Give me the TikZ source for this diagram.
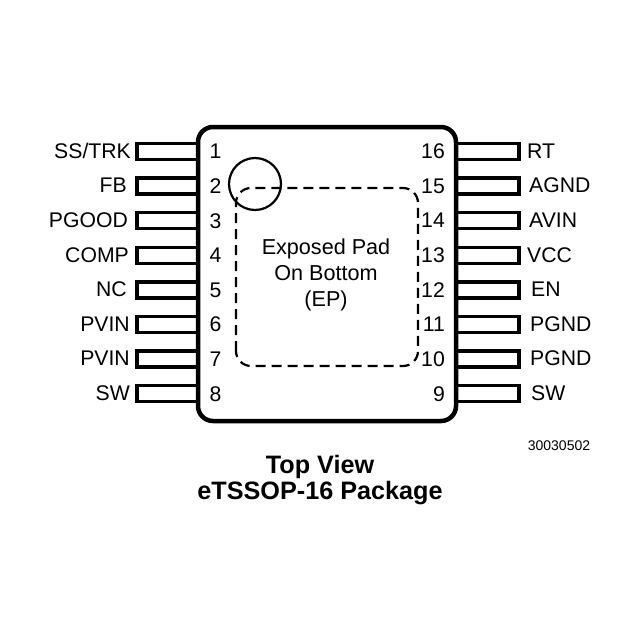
\documentclass[tikz,border=0pt]{standalone}
\usepackage{fontspec}
\setmainfont{Liberation Sans}
\tikzset{
  pinbox/.style={line width=3.3pt,line join=miter},
  pinlabel/.style={font=\fontsize{21.2}{24}\selectfont,inner sep=0pt},
  padlabel/.style={font=\fontsize{21.6}{26}\selectfont,inner sep=0pt,align=center},
  titlelabel/.style={font=\fontsize{25.2}{26}\selectfont\bfseries,inner sep=0pt,align=center}
}
\begin{document}
\begin{tikzpicture}[x=1pt,y=-1pt]
    \useasboundingbox (0,0) rectangle (640,640);
    % pins begin
    \foreach \n/\name/\nx in {1/SS\slash TRK/131,2/FB/127,3/PGOOD/128,4/COMP/129,5/NC/127,6/PVIN/130,7/PVIN/130,8/SW/130}{
        \pgfmathsetmacro{\ypin}{151.5+34.6*(\n-1)}
        \draw[pinbox] (198,\ypin-8) -- (137,\ypin-8) -- (137,\ypin+8) -- (198,\ypin+8);
        \node[pinlabel,anchor=east] (l\n) at (\nx,\ypin-.5) {\name};
        \node[pinlabel] (n\n) at (215.5,\ypin) {\n};
    }
    \foreach \n/\name/\nx in {16/RT/527,15/AGND/529,14/AVIN/529,13/VCC/527,12/EN/531,11/PGND/530,10/PGND/530,9/SW/531}{
        \pgfmathsetmacro{\ypin}{151.5+34.6*(16-\n)}
        \draw[pinbox] (456,\ypin-8) -- (519,\ypin-8) -- (519,\ypin+8) -- (456,\ypin+8);
        \node[pinlabel,anchor=west] (r\n) at (\nx,\ypin-.5) {\name};
        \node[pinlabel,anchor=east] (n\n) at (445,\ypin) {\n};
    }
    % pins end
    % body begin
    \draw[line width=4.5pt,rounded corners=15pt] (198,127) rectangle (456,421);
    % body end
    % pad begin
    \draw[line width=2.2pt,dash pattern=on 10pt off 6pt,rounded corners=15pt] (236,366) rectangle (418,188);
    \node[padlabel] (pad) at (326,275) {Exposed Pad\\On Bottom\\(EP)};
    % pad end
    \draw[line width=2.2pt] (255,184) circle (26);
    \node[font=\fontsize{14}{16}\selectfont,inner sep=0pt] (code) at (559,446) {30030502};
    \node[titlelabel] (title) at (320,480) {Top View\\eTSSOP-16 Package};
\end{tikzpicture}
\end{document}
